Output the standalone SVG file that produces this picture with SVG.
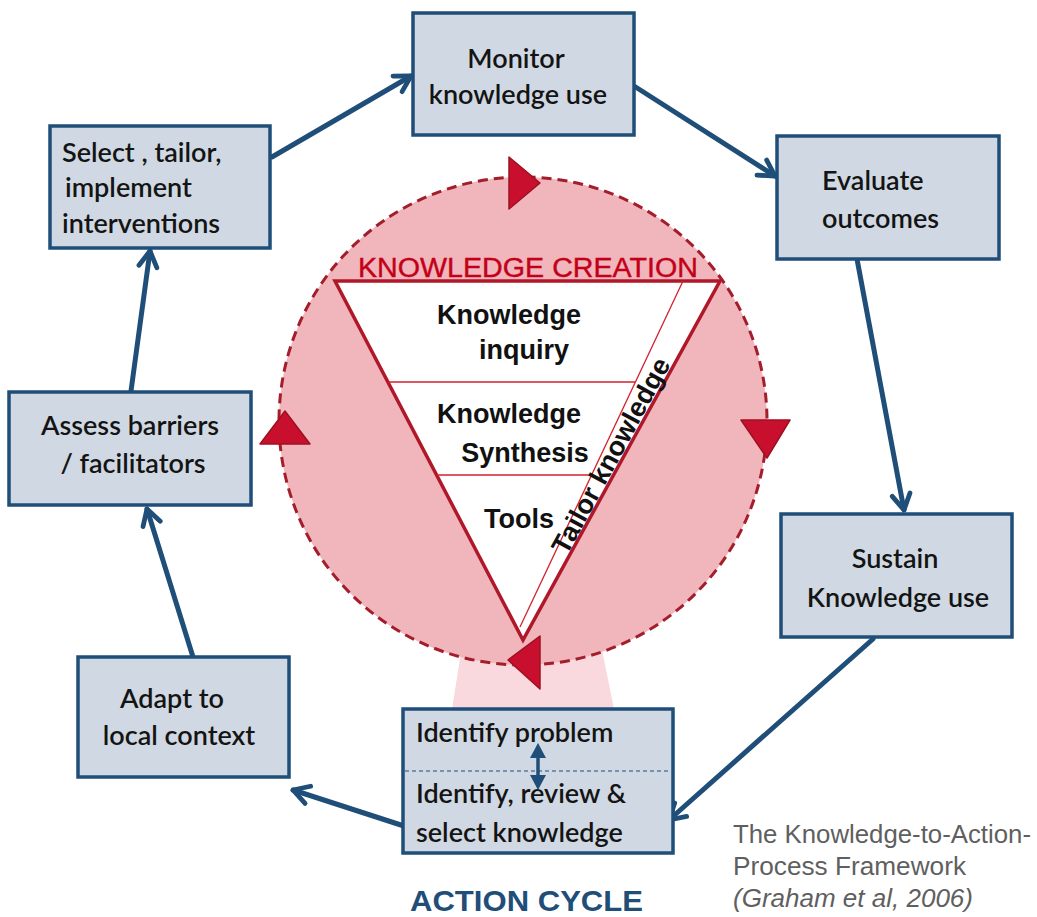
<svg xmlns="http://www.w3.org/2000/svg" width="1037" height="917" viewBox="0 0 1037 917">
<style>
.box{fill:#d0d9e3;stroke:#1f4e79;stroke-width:3.5}
.t{font-family:Lato,"Liberation Sans",sans-serif;font-size:27px;font-weight:600;fill:#141414}
.tri{font-family:"Liberation Sans",Arial,sans-serif;font-size:27px;font-weight:bold;fill:#111}
.conn{stroke:#1f4e79;stroke-width:5;fill:none;stroke-linecap:round}
.redarr{fill:#c8102e;stroke:#9e1020;stroke-width:1.5;stroke-linejoin:round}
.thin{stroke:#d3202e;stroke-width:1.3;fill:none}
.dh{fill:#1f4e79}
</style>
<defs>
<marker id="ah" viewBox="0 0 20 20" refX="18" refY="10" markerWidth="24" markerHeight="24" markerUnits="userSpaceOnUse" orient="auto">
<path d="M5,2.5 L18,10 L5,17.5" fill="none" stroke="#1f4e79" stroke-width="4" stroke-linecap="round" stroke-linejoin="round"/>
</marker>
</defs>
<rect width="1037" height="917" fill="#ffffff"/>

<g id="knowledge-creation">
<polygon points="463,640 600,640 614,709 452,709" fill="#f9d9dd"/>
<circle cx="523" cy="421" r="244" fill="#f0b6bc" stroke="#a31d2b" stroke-width="3" stroke-dasharray="10 6"/>
<polygon points="335,281 720,281 523,640" fill="#ffffff" stroke="#b0182a" stroke-width="3.5" stroke-linejoin="miter"/>
<line class="thin" x1="683" y1="281" x2="520" y2="627"/>
<line class="thin" x1="388" y1="382" x2="635" y2="382"/>
<line class="thin" x1="437" y1="475" x2="592" y2="475"/>
<text x="528" y="277" text-anchor="middle" font-family="'Liberation Sans',Arial,sans-serif" font-size="27" fill="#c40018" stroke="#c40018" stroke-width="0.4" textLength="340" lengthAdjust="spacingAndGlyphs">KNOWLEDGE CREATION</text>
<text class="tri" x="509" y="324" text-anchor="middle">Knowledge</text>
<text class="tri" x="524" y="359" text-anchor="middle">inquiry</text>
<text class="tri" x="509" y="423" text-anchor="middle">Knowledge</text>
<text class="tri" x="525" y="462" text-anchor="middle">Synthesis</text>
<text class="tri" x="519" y="528" text-anchor="middle">Tools</text>
<text class="tri" font-size="29" text-anchor="middle" transform="translate(619,460) rotate(-61.5)">Tailor knowledge</text>
<polygon class="redarr" points="509,157 509,209 540,183"/>
<polygon class="redarr" points="741,420 790,420 767,458"/>
<polygon class="redarr" points="260,444 310,444 285,411"/>
<polygon class="redarr" points="540,636 540,689 508,660"/>
</g>

<g id="connectors">
<path class="conn" d="M272,157 L411,76" marker-end="url(#ah)"/>
<path class="conn" d="M634,86 L775,176" marker-end="url(#ah)"/>
<path class="conn" d="M857,259 L904,510" marker-end="url(#ah)"/>
<path class="conn" d="M873,639 L669,820" marker-end="url(#ah)"/>
<path class="conn" d="M404,826 L293,790" marker-end="url(#ah)"/>
<path class="conn" d="M193,657 L147,509" marker-end="url(#ah)"/>
<path class="conn" d="M131,391 L150,251" marker-end="url(#ah)"/>
</g>

<g id="monitor">
<rect class="box" x="413" y="13" width="221" height="122"/>
<text class="t" x="516" y="68" text-anchor="middle">Monitor</text>
<text class="t" x="518" y="104" text-anchor="middle">knowledge use</text>
</g>

<g id="select">
<rect class="box" x="50" y="126" width="220" height="122"/>
<text class="t" x="62" y="162">Select , tailor,</text>
<text class="t" x="65" y="197">implement</text>
<text class="t" x="62" y="233">interventions</text>
</g>

<g id="evaluate">
<rect class="box" x="777" y="136" width="222" height="123"/>
<text class="t" x="822" y="190">Evaluate</text>
<text class="t" x="822" y="228">outcomes</text>
</g>

<g id="assess">
<rect class="box" x="9" y="392" width="242" height="113"/>
<text class="t" x="130" y="435" text-anchor="middle">Assess barriers</text>
<text class="t" x="133" y="473" text-anchor="middle">/ facilitators</text>
</g>

<g id="sustain">
<rect class="box" x="781" y="514" width="231" height="123"/>
<text class="t" x="895" y="568" text-anchor="middle">Sustain</text>
<text class="t" x="898" y="607" text-anchor="middle">Knowledge use</text>
</g>

<g id="adapt">
<rect class="box" x="78" y="657" width="211" height="120"/>
<text class="t" x="172" y="708" text-anchor="middle" font-size="30" font-weight="700">Adapt to</text>
<text class="t" x="179" y="745" text-anchor="middle" font-size="30" font-weight="700">local context</text>
</g>

<g id="identify">
<rect class="box" x="403" y="709" width="270" height="144"/>
<line x1="405" y1="771" x2="671" y2="771" stroke="#5a7aa0" stroke-width="1.5" stroke-dasharray="4 3"/>
<text class="t" x="416" y="742">Identify problem</text>
<text class="t" x="416" y="803">Identify, review &amp;</text>
<text class="t" x="416" y="842">select  knowledge</text>
<line x1="538" y1="755" x2="538" y2="778" stroke="#1f4e79" stroke-width="3.5"/>
<polygon class="dh" points="538,743 530,758 546,758"/>
<polygon class="dh" points="538,790 530,775 546,775"/>
</g>

<g id="labels">
<text x="410" y="911" font-family="'Liberation Sans',Arial,sans-serif" font-size="30" font-weight="bold" fill="#1f4e79" textLength="233" lengthAdjust="spacingAndGlyphs">ACTION CYCLE</text>
<text x="733" y="843" font-family="'Liberation Sans',Arial,sans-serif" font-size="25" fill="#5f5f5f" textLength="298" lengthAdjust="spacingAndGlyphs">The Knowledge-to-Action-</text>
<text x="733" y="875" font-family="'Liberation Sans',Arial,sans-serif" font-size="25" fill="#5f5f5f" textLength="233" lengthAdjust="spacingAndGlyphs">Process Framework</text>
<text x="733" y="907" font-family="'Liberation Sans',Arial,sans-serif" font-size="25" font-style="italic" fill="#5f5f5f" textLength="240" lengthAdjust="spacingAndGlyphs">(Graham et al, 2006)</text>
</g>
</svg>
